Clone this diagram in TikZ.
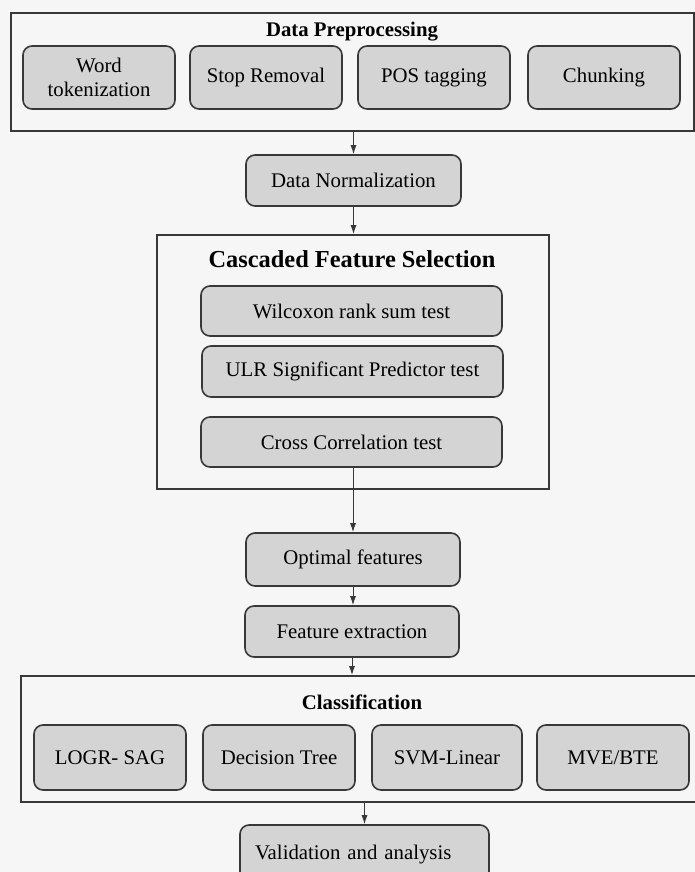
\documentclass[tikz,border=0pt]{standalone}
\usepackage{fontspec}
\setmainfont{Liberation Serif}
\usetikzlibrary{arrows.meta}
\definecolor{pagebg}{HTML}{F6F6F6}
\definecolor{boxfill}{HTML}{D4D4D4}
\definecolor{edge}{HTML}{383838}

\begin{document}
\begin{tikzpicture}[x=0.5pt, y=-0.5pt,
      box/.style={draw=edge, fill=boxfill, rounded corners=4.5pt, line width=0.8pt,
                  minimum width=76pt, minimum height=25pt, align=center,
                  inner sep=2pt, font=\fontsize{10.4}{12}\selectfont},
      frame/.style={draw=edge, fill=pagebg, line width=0.9pt, inner sep=0pt},
      head/.style={font=\fontsize{10.4}{12}\selectfont\bfseries},
      arr/.style={-{Latex[length=4.5pt, width=3pt]}, line width=0.5pt, draw=edge}]
    \clip (0,0) rectangle (695,872);
    \fill[pagebg] (0,0) rectangle (695,872);

    % preprocessing
    \node[frame, minimum width=341.5pt, minimum height=59pt] (prep) at (352.5,72) {};
    \node[head] (prephead) at (352,32) {Data Preprocessing};
    \node[box, minimum height=31.5pt] (wordtok) at (99,77.5)  {Word\\tokenization};
    \node[box, minimum height=31.5pt] (stoprem) at (266,77.5) {Stop Removal};
    \node[box, minimum height=31.5pt] (postag)  at (434,77.5) {POS tagging};
    \node[box, minimum height=31.5pt] (chunk)   at (604,77.5) {Chunking};

    \node[box, minimum width=107.5pt, minimum height=25.5pt] (norm) at (353.5,180.5) {Data Normalization};

    % feature selection
    \node[frame, minimum width=196pt, minimum height=127pt] (cfs) at (353,362) {};
    \node[head, font=\fontsize{12.2}{14}\selectfont\bfseries] (cfshead) at (352,259) {Cascaded Feature Selection};
    \node[box, minimum width=150.5pt] (wilcox) at (351.5,311)   {Wilcoxon rank sum test};
    \node[box, minimum width=150.5pt, minimum height=25.5pt] (ulr) at (352.5,371.5) {ULR Significant Predictor test};
    \node[box, minimum width=150.5pt] (cross)  at (351.5,442)   {Cross Correlation test};

    \node[box, minimum width=107pt, minimum height=26.5pt] (optimal) at (353,559.5) {Optimal features};
    \node[box, minimum width=107pt, minimum height=25.5pt] (featext) at (352,631.5) {Feature extraction};

    % classification
    \node[frame, minimum width=344.5pt, minimum height=63pt] (classif) at (365.5,739) {};
    \node[head] (classhead) at (362,702) {Classification};
    \node[box, minimum height=32.5pt] (logr)  at (110,757.5) {LOGR- SAG};
    \node[box, minimum height=32.5pt] (dtree) at (279,757.5) {Decision Tree};
    \node[box, minimum height=32.5pt, minimum width=75pt] (svm) at (447,757.5) {SVM-Linear};
    \node[box, minimum height=32.5pt] (mve)   at (613,757.5) {MVE/BTE};

    \node[box, minimum height=30pt, text width=109.5pt, inner xsep=7.5pt, align=left]
                                   (valid) at (364.5,855) {Validation and analysis};

    \draw[arr] (prep.south -| norm) -- (norm);
    \draw[arr] (norm) -- (norm |- cfs.north);
    \draw[arr] (cross) -- (cross.south -| optimal.north) -- (optimal);
    \draw[arr] (optimal) -- (optimal |- featext.north);
    \draw[arr] (featext) -- (featext |- classif.north);
    \draw[arr] (valid |- classif.south) -- (valid);
  \end{tikzpicture}
\end{document}
